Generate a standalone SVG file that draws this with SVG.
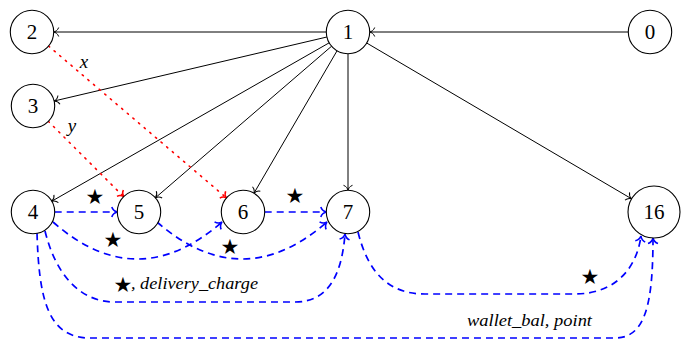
<svg xmlns="http://www.w3.org/2000/svg" width="689" height="339" viewBox="0 0 689 339">
<style>
.node circle{fill:#fff;stroke:#000;stroke-width:1.1}
.node text{font-family:"Liberation Serif",serif;font-size:21px;text-anchor:middle;fill:#000}
.blk{fill:none;stroke:#000;stroke-width:1;marker-end:url(#ak)}
.red{fill:none;stroke:#f00;stroke-width:1.6;stroke-dasharray:1.4 6;stroke-linecap:round;marker-end:url(#ar)}
.blu{fill:none;stroke:#00f;stroke-width:1.7;stroke-dasharray:7 5;marker-end:url(#ab)}
.lbl{font-family:"Liberation Serif",serif;font-style:italic;font-size:17px;fill:#000}
.var{font-family:"Liberation Serif",serif;font-style:italic;font-size:19px;fill:#000;text-anchor:middle}
.star{font-family:"DejaVu Sans",sans-serif;font-size:21px;text-anchor:middle;fill:#000}
</style>
<defs>
<marker id="ak" markerUnits="userSpaceOnUse" markerWidth="12" markerHeight="12" viewBox="-10 -6 12 12" refX="0" refY="0" orient="auto" overflow="visible">
<path d="M -5,-4.5 C -4,-1.5 -1.5,-0.4 0,0 C -1.5,0.4 -4,1.5 -5,4.5" fill="none" stroke="#000" stroke-width="1"/>
</marker>
<marker id="ar" markerUnits="userSpaceOnUse" markerWidth="12" markerHeight="12" viewBox="-10 -6 12 12" refX="0" refY="0" orient="auto" overflow="visible">
<path d="M -5,-4.5 C -4,-1.5 -1.5,-0.4 0,0 C -1.5,0.4 -4,1.5 -5,4.5" fill="none" stroke="#f00" stroke-width="1.5"/>
</marker>
<marker id="ab" markerUnits="userSpaceOnUse" markerWidth="12" markerHeight="12" viewBox="-10 -6 12 12" refX="0" refY="0" orient="auto" overflow="visible">
<path d="M -5.5,-5 C -4.4,-1.7 -1.6,-0.4 0,0 C -1.6,0.4 -4.4,1.7 -5.5,5" fill="none" stroke="#00f" stroke-width="1.6"/>
</marker>
</defs>
<g id="connectors">
<path class="blk" d="M 628.3,32 L 369.7,32"/>
<path class="blk" d="M 326.3,32 L 53.7,32"/>
<path class="blk" d="M 326.9,37 L 54.1,101"/>
<path class="blk" d="M 329.2,42.8 L 51.8,201.2"/>
<path class="blk" d="M 331.6,46.2 L 155.4,197.8"/>
<path class="blk" d="M 337.1,50.7 L 253.9,193.3"/>
<path class="blk" d="M 348,53.7 L 348,190.3"/>
<path class="blk" d="M 366.7,43 L 631.6,198.8"/>
<path class="red" d="M 48.5,46 L 226.5,197.9"/>
<path class="red" d="M 48.3,121.3 L 123.7,196.7"/>
<path class="blu" d="M 54.7,212 L 117.3,212"/>
<path class="blu" d="M 264.7,212 L 326.3,212"/>
<path class="blu" d="M 53,222 Q 137,296 222,222"/>
<path class="blu" d="M 157,222 Q 242,296 327,222"/>
<path class="blu" d="M 45,231 C 55,272 78,302 115,302 L 295,302 C 330,302 342,272 345,234"/>
<path class="blu" d="M 358,232 C 368,272 388,294 425,294 L 575,294 C 612,294 636,272 641,236"/>
<path class="blu" d="M 37,233 C 39,300 48,338 90,338 L 615,338 C 645,338 653,305 653,238"/>
<text class="var" x="84" y="68">x</text>
<text class="var" x="72" y="132">y</text>
<text class="star" x="95" y="203.5">★</text>
<text class="star" x="113" y="246.5">★</text>
<text class="star" x="295" y="202.5">★</text>
<text class="star" x="230" y="253.5">★</text>
<text class="star" x="123" y="291.5">★</text>
<text class="lbl" x="131" y="289" textLength="127" lengthAdjust="spacingAndGlyphs">, delivery_charge</text>
<text class="star" x="590" y="283.5">★</text>
<text class="lbl" x="467" y="326" textLength="125" lengthAdjust="spacingAndGlyphs">wallet_bal, point</text>
</g>
<g id="n0" class="node"><circle cx="650" cy="32" r="21.7"/><text x="650" y="39">0</text></g>
<g id="n1" class="node"><circle cx="348" cy="32" r="21.7"/><text x="348" y="39">1</text></g>
<g id="n2" class="node"><circle cx="32" cy="32" r="21.7"/><text x="32" y="39">2</text></g>
<g id="n3" class="node"><circle cx="33" cy="106" r="21.7"/><text x="33" y="113">3</text></g>
<g id="n4" class="node"><circle cx="33" cy="212" r="21.7"/><text x="33" y="219">4</text></g>
<g id="n5" class="node"><circle cx="139" cy="212" r="21.7"/><text x="139" y="219">5</text></g>
<g id="n6" class="node"><circle cx="243" cy="212" r="21.7"/><text x="243" y="219">6</text></g>
<g id="n7" class="node"><circle cx="348" cy="212" r="21.7"/><text x="348" y="219">7</text></g>
<g id="n16" class="node"><circle cx="654" cy="212" r="26"/><text x="654" y="219">16</text></g>
</svg>
